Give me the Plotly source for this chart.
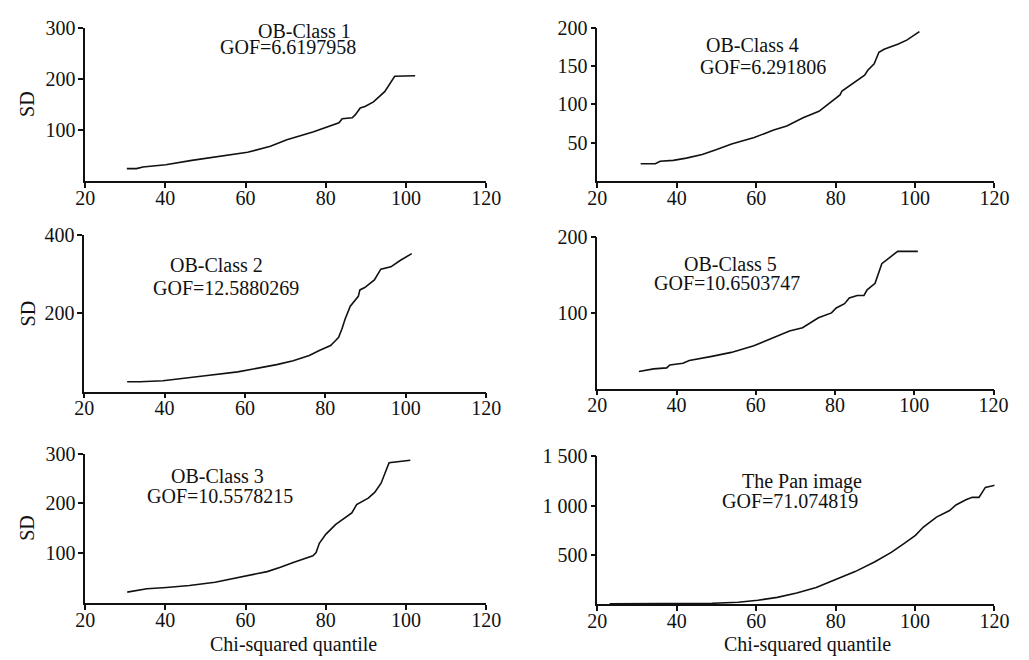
import plotly.graph_objects as go

# ---------------- data ----------------
x_class1 = [30.4, 32.8, 34.4, 40.1, 46.6, 54.8, 60.5, 66.2, 70.3, 76.8, 80.9, 83.3, 84.1, 86.6, 87.4, 88.6, 89.8, 91.9, 94.7, 97.2, 102.3]
y_class1 = [24.4, 24.4, 27.6, 32.0, 40.5, 50.0, 56.5, 68.0, 81.0, 96.0, 108.0, 114.0, 122.0, 124.0, 130.0, 143.0, 146.0, 155.0, 175.0, 205.0, 206.0]

x_class2 = [30.7, 33.9, 39.6, 45.3, 50.1, 58.2, 63.1, 67.9, 72.0, 76.0, 78.5, 80.1, 81.3, 82.5, 83.3, 84.1, 84.9, 86.2, 88.2, 88.6, 89.8, 92.2, 93.8, 96.3, 98.7, 101.5]
y_class2 = [25.2, 25.2, 27.7, 33.6, 40.3, 50.4, 58.8, 68.9, 79.0, 92.4, 105.0, 113.4, 117.6, 130.0, 138.6, 159.6, 184.8, 218.4, 243.6, 260.0, 266.0, 285.6, 313.0, 319.0, 336.0, 352.8]

x_class3 = [30.5, 35.4, 40.3, 46.0, 52.4, 58.1, 65.4, 68.7, 71.9, 76.8, 77.6, 78.4, 80.0, 82.5, 84.9, 86.5, 87.7, 90.6, 92.2, 93.8, 95.8, 101.1]
y_class3 = [21.8, 28.5, 31.1, 35.0, 41.7, 51.6, 62.9, 71.5, 81.4, 94.7, 101.3, 119.8, 137.7, 157.6, 170.8, 180.7, 197.3, 210.5, 221.8, 240.3, 281.4, 286.6]

x_class4 = [30.9, 34.6, 35.8, 39.1, 42.4, 46.4, 49.7, 53.8, 59.5, 64.4, 67.7, 71.8, 75.8, 77.1, 79.9, 81.1, 81.6, 83.2, 85.6, 87.3, 88.1, 89.7, 90.9, 92.2, 95.8, 97.9, 101.1]
y_class4 = [22.6, 22.6, 26.0, 27.0, 30.0, 34.6, 40.6, 48.3, 56.8, 66.7, 71.8, 82.5, 91.0, 96.2, 108.0, 112.4, 117.5, 123.0, 131.6, 138.0, 144.5, 153.0, 168.0, 172.0, 178.7, 183.8, 194.9]

x_class5 = [30.5, 34.2, 37.5, 38.3, 41.6, 43.2, 48.9, 53.8, 59.5, 64.4, 68.5, 71.8, 75.8, 79.1, 80.3, 82.4, 83.6, 85.6, 87.3, 88.1, 90.1, 91.8, 93.8, 95.8, 100.9]
y_class5 = [22.6, 26.0, 27.4, 31.3, 33.5, 37.0, 42.6, 47.8, 56.5, 67.4, 76.0, 80.4, 93.5, 100.0, 106.5, 112.2, 119.6, 123.0, 123.0, 130.4, 139.0, 165.0, 172.6, 181.3, 181.3]

x_pan = [23.1, 30.0, 40.0, 48.9, 55.5, 60.4, 65.3, 70.2, 75.1, 80.0, 84.9, 89.9, 94.0, 97.2, 100.1, 102.1, 105.4, 108.7, 110.3, 112.8, 114.4, 116.1, 117.7, 120.2]
y_pan = [0.5, 1.0, 2.0, 7.0, 17.0, 37.0, 67.0, 111.0, 168.0, 245.0, 329.0, 430.0, 524.0, 614.0, 698.0, 782.0, 883.0, 950.0, 1007.0, 1060.0, 1084.0, 1084.0, 1185.0, 1208.0]

x_ticks = [20, 40, 60, 80, 100, 120]
y_ticks_1 = [100, 200, 300]
y_ticks_2 = [200, 400]
y_ticks_3 = [100, 200, 300]
y_ticks_4 = [50, 100, 150, 200]
y_ticks_5 = [100, 200]
y_ticks_6 = [500, 1000, 1500]
y_ticktext_6 = ["500", "1 000", "1 500"]

titles = ["OB-Class 1", "OB-Class 2", "OB-Class 3", "OB-Class 4", "OB-Class 5", "The Pan image"]
gofs = ["GOF=6.6197958", "GOF=12.5880269", "GOF=10.5578215", "GOF=6.291806", "GOF=10.6503747", "GOF=71.074819"]

# ---------------- layout geometry (pixels) ----------------
W, H = 1029, 660
FONT = "Liberation Serif, Times New Roman, serif"

def px_x(p):
    return p / W

def px_y(p):
    return 1 - p / H

panels = [
    (x_class1, y_class1, (77, 488), (17, 173), 300, y_ticks_1, None),
    (x_class2, y_class2, (76, 488), (228, 387), 400, y_ticks_2, None),
    (x_class3, y_class3, (77, 488), (450, 602), 300, y_ticks_3, None),
    (x_class4, y_class4, (602, 1009), (17, 173), 200, y_ticks_4, None),
    (x_class5, y_class5, (602, 1008), (230, 384), 200, y_ticks_5, None),
    (x_pan, y_pan, (602, 1009), (453, 603), 1500, y_ticks_6, y_ticktext_6),
]

fig = go.Figure()
layout = dict(
    width=W, height=H,
    margin=dict(l=0, r=0, t=0, b=0),
    paper_bgcolor="white", plot_bgcolor="white",
    showlegend=False,
    font=dict(family=FONT, size=20, color="#111"),
)

for i, (xs, ys, (x0, x1), (yt, yb), ymax, yt_vals, yt_text) in enumerate(panels):
    n = i + 1
    xa = "xaxis" if n == 1 else f"xaxis{n}"
    ya = "yaxis" if n == 1 else f"yaxis{n}"
    xr = "x" if n == 1 else f"x{n}"
    yr = "y" if n == 1 else f"y{n}"
    fig.add_trace(go.Scatter(x=xs, y=ys, mode="lines", xaxis=xr, yaxis=yr,
                             line=dict(color="#111", width=1.6), hoverinfo="skip"))
    layout[xa] = dict(
        domain=[px_x(x0), px_x(x1)], anchor=yr, range=[20, 120],
        tickmode="array", tickvals=x_ticks, ticks="outside", ticklen=5, tickwidth=1.5,
        tickcolor="#111", showline=True, linecolor="#111", linewidth=1.5,
        showgrid=False, zeroline=False, ticklabelstandoff=-7,
        tickfont=dict(family=FONT, size=20, color="#111"),
    )
    ydict = dict(
        domain=[px_y(yb), px_y(yt)], anchor=xr, range=[0, ymax],
        tickmode="array", tickvals=yt_vals, ticks="outside", ticklen=5, tickwidth=1.5,
        tickcolor="#111", showline=True, linecolor="#111", linewidth=1.5,
        showgrid=False, zeroline=False, ticklabelstandoff=-1,
        tickfont=dict(family=FONT, size=20, color="#111"),
    )
    if yt_text is not None:
        ydict["ticktext"] = yt_text
    layout[ya] = ydict

fig.update_layout(**layout)

text_pos = [
    ((302, 20), (285, 37)),
    ((212, 258), (221, 282)),
    ((213, 473), (215, 493)),
    ((761, 35), (772, 57)),
    ((738, 257), (735, 277)),
    ((812, 478), (799, 498)),
]
for (t_pos, g_pos), t, g in zip(text_pos, titles, gofs):
    for (px, py), txt in ((t_pos, t), (g_pos, g)):
        fig.add_annotation(x=px_x(px), y=px_y(py), xref="paper", yref="paper",
                           text=txt, showarrow=False, xanchor="center", yanchor="middle",
                           font=dict(family=FONT, size=20, color="#111"))

for py in (95, 308, 526):
    fig.add_annotation(x=px_x(18), y=px_y(py), xref="paper", yref="paper", text="SD",
                       textangle=-90, showarrow=False, xanchor="center", yanchor="middle",
                       font=dict(family=FONT, size=20, color="#111"))

for px in (291, 817):
    fig.add_annotation(x=px_x(px), y=px_y(644), xref="paper", yref="paper",
                       text="Chi-squared quantile", showarrow=False,
                       xanchor="center", yanchor="middle",
                       font=dict(family=FONT, size=20, color="#111"))

fig.write_html("out.html")
